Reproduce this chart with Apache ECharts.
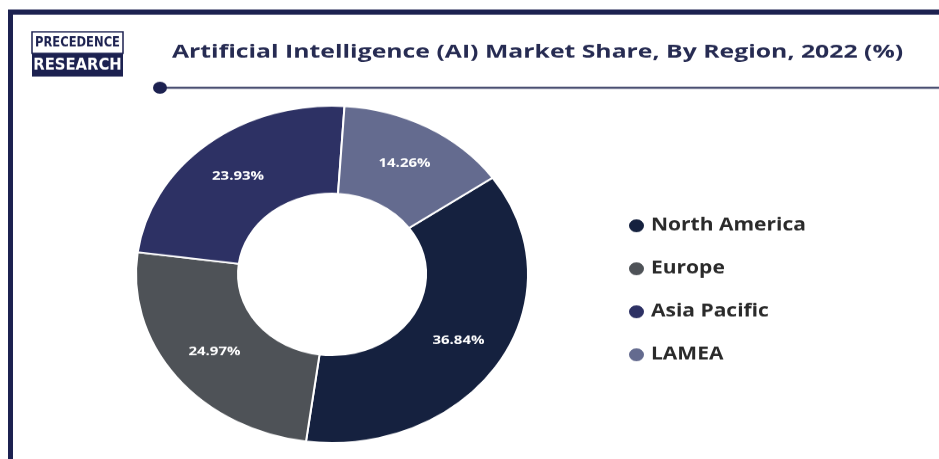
<!DOCTYPE html>
<html>
<head>
<meta charset="utf-8">
<title>AI Market Share by Region</title>
<script src="https://cdn.jsdelivr.net/npm/echarts@6/dist/echarts.min.js"></script>
<style>
  html, body { margin: 0; padding: 0; background: #fff; overflow: hidden; }
  /* the reference is squashed vertically, so draw tall and squeeze */
  #chart { width: 939px; height: 534px; transform: scaleY(0.86); transform-origin: 0 0; }
</style>
</head>
<body>
<div id="chart"></div>
<script>
const title = "Artificial Intelligence (AI) Market Share, By Region, 2022 (%)";
const regions = ["North America", "Europe", "Asia Pacific", "LAMEA"];
const shares = [36.84, 24.97, 23.93, 14.26];
const colors = ["#15213f", "#4e5257", "#2d3164", "#646b8f"];

const navy = "#1c2150";
const font = "'Open Sans', 'DejaVu Sans', sans-serif";
const logoFont = "'DejaVu Sans', sans-serif";

const chart = echarts.init(document.getElementById("chart"));

chart.setOption({
  animation: false,
  color: colors,
  legend: {
    orient: "vertical",
    left: 622,
    top: 247,
    icon: "circle",
    itemWidth: 17,
    itemHeight: 17,
    itemGap: 29,
    selectedMode: false,
    data: regions,
    textStyle: {
      fontFamily: font,
      fontSize: 21,
      fontWeight: "bold",
      color: "#2a2a2a",
      lineHeight: 17,
      padding: [0, 0, 0, 1]
    }
  },
  graphic: [
    // frame
    { type: "rect", shape: { x: 8, y: 11, width: 931, height: 6 }, style: { fill: navy } },
    { type: "rect", shape: { x: 8, y: 11, width: 5, height: 523 }, style: { fill: navy } },
    // logo
    { type: "rect", shape: { x: 32, y: 37, width: 91, height: 25 }, style: { fill: "#fff", stroke: navy, lineWidth: 1.5 } },
    { type: "rect", shape: { x: 32, y: 62, width: 91, height: 27 }, style: { fill: navy } },
    {
      type: "text", x: 77.5, y: 50, scaleX: 0.72,
      style: {
        text: "PRECEDENCE", x: 0, y: 0, align: "center", verticalAlign: "middle",
        font: "bold 16px " + logoFont, fill: navy
      }
    },
    {
      type: "text", x: 77.5, y: 76, scaleX: 0.78,
      style: {
        text: "RESEARCH", x: 0, y: 0, align: "center", verticalAlign: "middle",
        font: "bold 19px " + logoFont, fill: "#fff"
      }
    },
    // title
    {
      type: "text", x: 172, y: 61, scaleX: 1.18,
      style: {
        text: title, x: 0, y: 0, verticalAlign: "middle",
        font: "bold 21px " + font, fill: "#262b52"
      }
    },
    // rule under the title
    { type: "line", shape: { x1: 160, y1: 102, x2: 939, y2: 102 }, style: { stroke: "#4a4f72", lineWidth: 2.5 } },
    { type: "circle", shape: { cx: 160, cy: 102, r: 7 }, style: { fill: navy } }
  ],
  series: [
    {
      type: "pie",
      center: [332, 319],
      radius: [94, 196],
      startAngle: 35,
      clockwise: true,
      emphasis: { disabled: true },
      itemStyle: { borderColor: "#fff", borderWidth: 2 },
      label: {
        position: "inside",
        color: "#fff",
        fontFamily: font,
        fontSize: 15,
        fontWeight: "bold",
        formatter: p => p.value.toFixed(2) + "%"
      },
      labelLine: { show: false },
      data: regions.map((name, i) => ({ name: name, value: shares[i] }))
    }
  ]
});
</script>
</body>
</html>
